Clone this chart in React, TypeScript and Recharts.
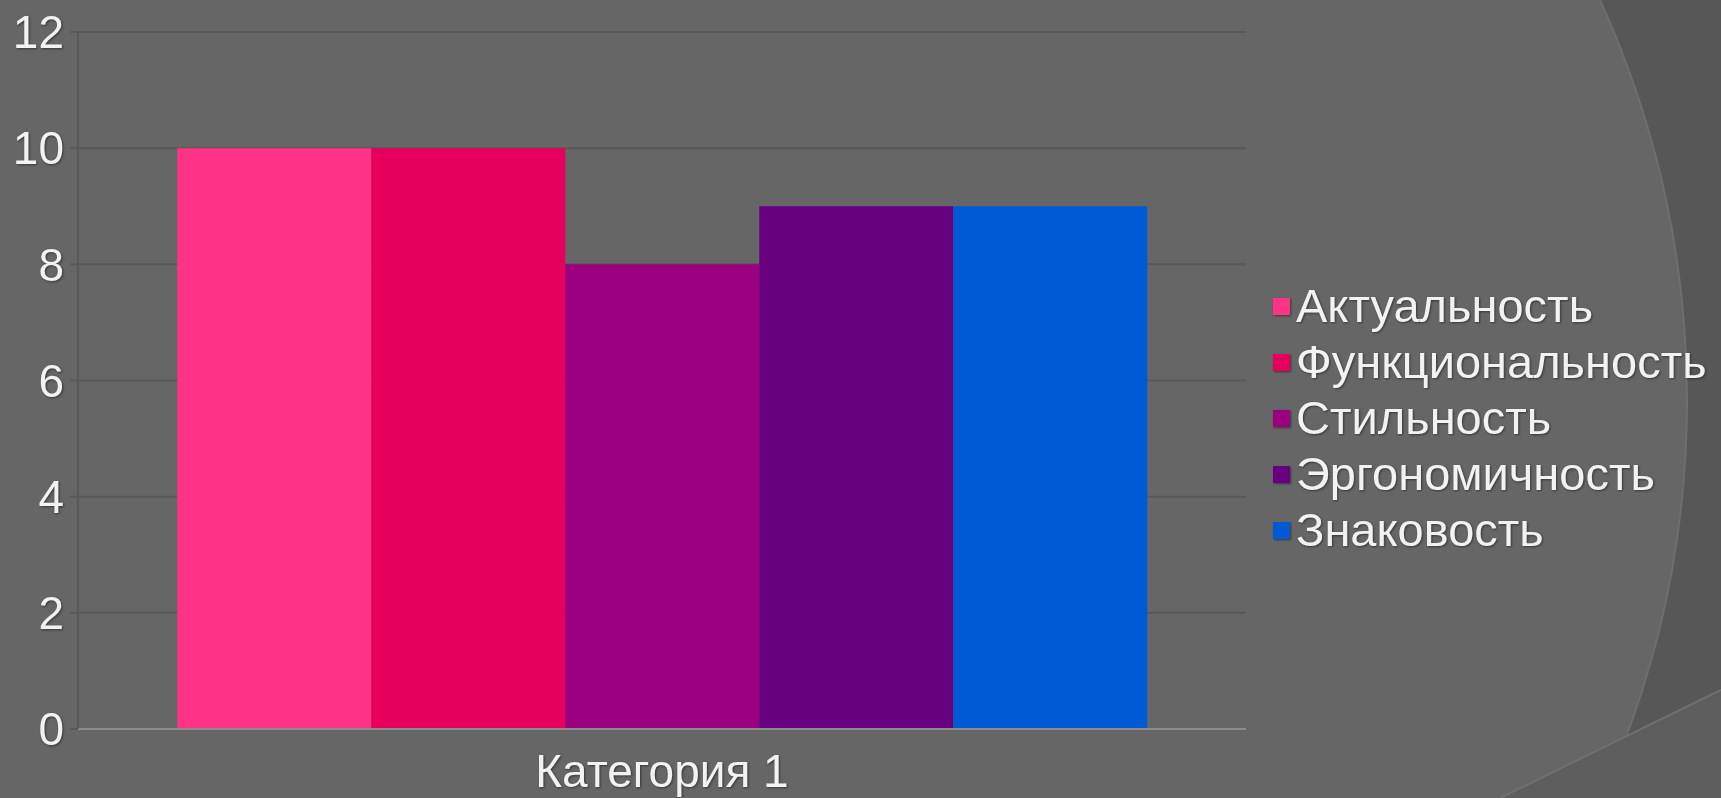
import React from "react";
import { BarChart, Bar, XAxis, YAxis, CartesianGrid, Legend } from "recharts";

const categories = ["Категория 1"];
const seriesNames = ["Актуальность", "Функциональность", "Стильность", "Эргономичность", "Знаковость"];
const seriesValues = [10, 10, 8, 9, 9];
const seriesColors = ["#FF3385", "#E6005C", "#9A007F", "#66007F", "#005AD6"];
const yTicks = [0, 2, 4, 6, 8, 10, 12];

const data = categories.map((c) => {
  const row: Record<string, string | number> = { category: c };
  seriesNames.forEach((n, i) => {
    row[n] = seriesValues[i];
  });
  return row;
});

const FONT = "'Liberation Sans', Arial, sans-serif";
const TEXT = "#F2F2F2";
const SHADOW = "drop-shadow(1px 1px 1px rgba(0,0,0,0.45))";

const LegendContent = () => (
  <div style={{ fontFamily: FONT, textAlign: "left" }}>
    {seriesNames.map((n, i) => (
      <div key={n} style={{ display: "flex", alignItems: "center", height: 56 }}>
        <div style={{ width: 17, height: 17, background: seriesColors[i], marginRight: 6, filter: SHADOW, flex: "none" }} />
        <span style={{ color: TEXT, fontSize: 47, lineHeight: "56px", filter: SHADOW, whiteSpace: "nowrap" }}>{n}</span>
      </div>
    ))}
  </div>
);

export default function App() {
  return (
    <div style={{ position: "absolute", left: 0, top: 0, width: 1721, height: 798, background: "#666666", overflow: "hidden" }}>
      <svg width={1721} height={798} style={{ position: "absolute", left: 0, top: 0 }}>
        <rect x={0} y={0} width={1721} height={798} fill="#575757" />
        <circle cx={724} cy={400} r={963} fill="#666666" stroke="#6e6e6e" strokeWidth={2} />
        <polygon points="1500,798 1721,690 1721,798" fill="#5e5e5e" />
        <line x1={1500} y1={798} x2={1721} y2={690} stroke="#707070" strokeWidth={2} />
      </svg>
      <div style={{ position: "absolute", left: 0, top: 0 }}>
        <BarChart
          width={1721}
          height={798}
          data={data}
          margin={{ top: 32, right: 475, bottom: 0, left: 0 }}
          barCategoryGap="8.5%"
          barGap={0}
        >
          <CartesianGrid vertical={false} stroke="#595959" strokeWidth={2} />
          <XAxis
            dataKey="category"
            height={69}
            tickLine={false}
            tickSize={0}
            tickMargin={25}
            axisLine={{ stroke: "#8C8C8C", strokeWidth: 2 }}
            tick={{ fill: TEXT, fontSize: 46, fontFamily: FONT, style: { filter: SHADOW } }}
          />
          <YAxis
            width={78}
            domain={[0, 12]}
            ticks={yTicks}
            interval={0}
            tickSize={8}
            tickMargin={6}
            axisLine={{ stroke: "#595959", strokeWidth: 2 }}
            tickLine={{ stroke: "#595959", strokeWidth: 2 }}
            tick={{ fill: TEXT, fontSize: 46, fontFamily: FONT, style: { filter: SHADOW } }}
          />
          <Legend
            layout="vertical"
            align="center"
            verticalAlign="middle"
            content={<LegendContent />}
            wrapperStyle={{ left: 1273, top: 278, width: 445 }}
          />
          {seriesNames.map((n, i) => (
            <Bar key={n} dataKey={n} fill={seriesColors[i]} isAnimationActive={false} />
          ))}
        </BarChart>
      </div>
    </div>
  );
}
